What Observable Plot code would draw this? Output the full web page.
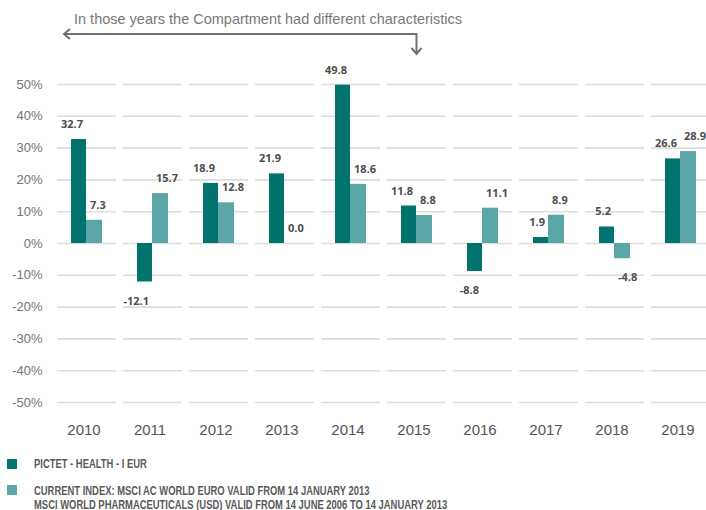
<!DOCTYPE html>
<html>
<head>
<meta charset="utf-8">
<script src="https://cdn.jsdelivr.net/npm/d3@7"></script>
<script src="https://cdn.jsdelivr.net/npm/@observablehq/plot@0.6"></script>
<style>
  body { margin: 0; background: #fff; }
  #chart { position: relative; width: 706px; height: 510px; overflow: hidden; }
  .legend { position: absolute; left: 7px; top: 0; font-family: "Liberation Sans", Arial, sans-serif; font-weight: bold; font-size: 12px; color: #5a5a5a; line-height: 14px; }
  .legend .sw { position: absolute; left: 0; width: 10px; height: 10px; }
  .legend .tx { position: absolute; left: 27px; white-space: nowrap; transform: scaleX(0.785); transform-origin: 0 0; }
</style>
</head>
<body>
<div id="chart"></div>
<script>
const years = ["2010","2011","2012","2013","2014","2015","2016","2017","2018","2019"];
const fundValues = [32.7, -12.1, 18.9, 21.9, 49.8, 11.8, -8.8, 1.9, 5.2, 26.6];
const indexValues = [7.3, 15.7, 12.8, 0.0, 18.6, 8.8, 11.1, 8.9, -4.8, 28.9];
const yTicks = [-50, -40, -30, -20, -10, 0, 10, 20, 30, 40, 50];
const fundLabel = "PICTET - HEALTH - I EUR";
const indexLabelLines = ["CURRENT INDEX: MSCI AC WORLD EURO VALID FROM 14 JANUARY 2013", "MSCI WORLD PHARMACEUTICALS (USD) VALID FROM 14 JUNE 2006 TO 14 JANUARY 2013"];
const annotationText = "In those years the Compartment had different characteristics";
const annotationFrom = "2010";
const annotationTo = "2015";

const darkColor = "#00736f";
const lightColor = "#5aa6a7";

const fund = years.map((year, i) => ({year, value: fundValues[i]}));
const idx = years.map((year, i) => ({year, value: indexValues[i]}));
const grid = years.flatMap(year => yTicks.map(v => ({year, v})));

function annotation(index, scales, values, dims) {
  const x = scales.x, y = scales.y;
  const step = x("2011") - x("2010");
  const bw = step * (1 - 0.106);
  const xl = x(annotationFrom) + 7;
  const xr = x(annotationTo) + bw / 2;
  const ya = y(50) - 50;
  const g = d3.create("svg:g");
  g.append("path")
    .attr("fill", "none")
    .attr("stroke", "#707070")
    .attr("stroke-width", 2)
    .attr("d", `M${xl},${ya}H${xr}V${ya + 20}M${xl + 6},${ya - 5}L${xl},${ya}L${xl + 6},${ya + 5}M${xr - 5},${ya + 14}L${xr},${ya + 20}L${xr + 5},${ya + 14}`);
  g.append("text")
    .attr("x", x(annotationFrom) + 17)
    .attr("y", ya - 10)
    .attr("text-anchor", "start")
    .attr("fill", "#777")
    .attr("font-size", 14.5)
    .attr("textLength", 388)
    .attr("lengthAdjust", "spacingAndGlyphs")
    .attr("font-family", "'Liberation Sans', Arial, sans-serif")
    .text(annotationText);
  return g.node();
}

const labelFont = {fontSize: 11, fontWeight: "bold", fill: "#4d4d4d", fontFamily: "'Open Sans', sans-serif"};

const plot = Plot.plot({
  width: 706,
  height: 445,
  marginTop: 84,
  marginBottom: 43,
  marginLeft: 57,
  marginRight: 0,
  style: {fontFamily: "'Liberation Sans', Arial, sans-serif", background: "#fff", overflow: "visible"},
  x: {type: "band", domain: years, range: [57, 710], paddingInner: 0.106, paddingOuter: 0, round: false, label: null},
  y: {domain: [-50, 50], label: null},
  marks: [
    Plot.tickY(grid, {x: "year", y: "v", stroke: "#dcdcdc", strokeWidth: 1.6}),
    Plot.barY(fund, {x: "year", y: "value", fill: darkColor, insetLeft: 14, insetRight: 30}),
    Plot.barY(idx, {x: "year", y: "value", fill: lightColor, insetLeft: 29, insetRight: 14}),
    Plot.text(fund, {filter: d => d.value >= 0, x: "year", y: "value", text: d => d.value.toFixed(1), textAnchor: "end", dx: -4, dy: -15, ...labelFont}),
    Plot.text(fund, {filter: d => d.value < 0, x: "year", y: "value", text: d => d.value.toFixed(1), textAnchor: "end", dx: -4, dy: 19, ...labelFont}),
    Plot.text(idx, {filter: d => d.value >= 0, x: "year", y: "value", text: d => d.value.toFixed(1), textAnchor: "start", dx: 3, dy: -15, ...labelFont}),
    Plot.text(idx, {filter: d => d.value < 0, x: "year", y: "value", text: d => d.value.toFixed(1), textAnchor: "start", dx: 3, dy: 19, ...labelFont}),
    Plot.axisY({ticks: yTicks, tickSize: 0, tickPadding: 15, tickFormat: d => d + "%", fontSize: 13, color: "#747474", label: null}),
    Plot.axisX({tickSize: 0, tickPadding: 22, dx: -3, fontSize: 15, color: "#50555a", label: null}),
    annotation
  ]
});

const chart = document.getElementById("chart");
chart.appendChild(plot);

const leg = document.createElement("div");
leg.className = "legend";
leg.style.width = "700px";
leg.innerHTML = `
  <div class="sw" style="top:459px;background:${darkColor}"></div>
  <div class="tx" style="top:457px">${fundLabel}</div>
  <div class="sw" style="top:485px;background:${lightColor}"></div>
  <div class="tx" style="top:484px">${indexLabelLines[0]}<br>${indexLabelLines[1]}</div>`;
chart.appendChild(leg);
</script>
</body>
</html>
